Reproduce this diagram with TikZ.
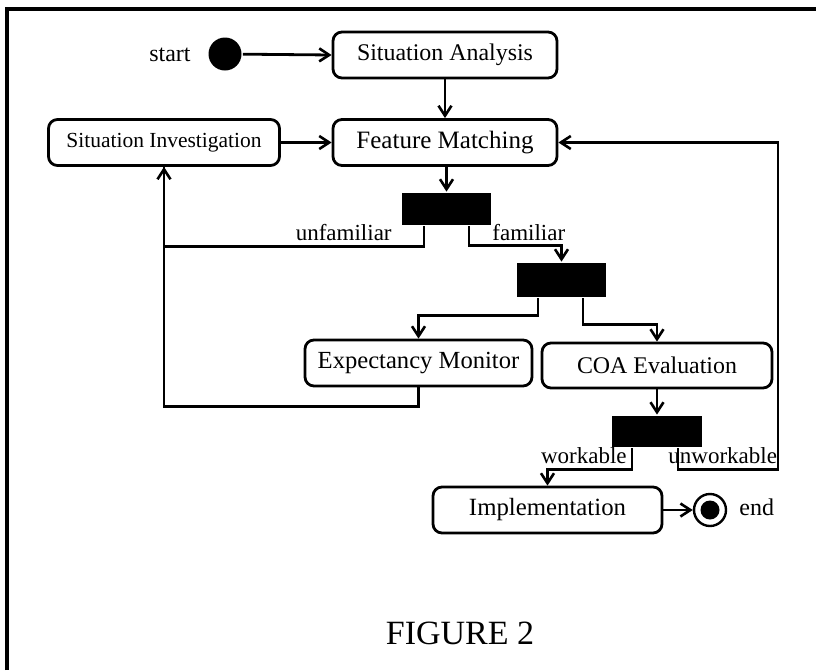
\documentclass[tikz,border=0pt]{standalone}
\usepackage{fontspec}
\setmainfont{Liberation Serif}
\usetikzlibrary{arrows.meta}
\begin{document}
\begin{tikzpicture}[x=1pt,y=-1pt,
  line width=2.8pt,
  state/.style={draw, rounded corners=9pt, inner sep=0pt, line width=2.8pt, minimum height=46pt},
  bar/.style={fill=black, draw=none, inner sep=0pt, minimum width=89pt, minimum height=32pt},
  lbl/.style={inner sep=0pt, font=\fontsize{23}{23}\selectfont},
  arr/.style={-{Straight Barb[length=10pt,width=13pt,line width=2.6pt]}},
]
\useasboundingbox (0,0) rectangle (816,670);
% frame
\coordinate (f1) at (7,670);
\coordinate (f2) at (7,9);
\coordinate (f3) at (816,9);
\draw[line width=3.6pt] (f1) -- (f2) -- (f3);

% nodes
\node[circle, fill=black, inner sep=0pt, minimum size=33pt] (st) at (225,54) {};
\node[lbl, anchor=base east, font=\fontsize{24}{24}\selectfont] (stl) at (192,61) {start};
\node[state, minimum width=224pt, font=\fontsize{23.9}{24}\selectfont] (sa) at (445,55) {Situation Analysis};
\node[state, minimum width=224pt, font=\fontsize{25}{25}\selectfont] (fm) at (445,142.5) {Feature Matching};
\node[state, minimum width=231pt, font=\fontsize{21.5}{22}\selectfont] (si) at (164,142.5) {Situation Investigation};
\node[bar] (b1) at (446.5,209) {};
\node[bar, minimum height=34pt] (b2) at (561.5,280) {};
\node[state, minimum width=227pt, font=\fontsize{24.6}{25}\selectfont] (em) at (418.5,363) {Expectancy Monitor};
\node[state, minimum width=230pt, minimum height=45pt, font=\fontsize{23.9}{24}\selectfont] (coa) at (657,365.5) {COA Evaluation};
\node[bar, minimum width=90pt, minimum height=31pt] (b3) at (657,431.5) {};
\node[state, minimum width=229pt, font=\fontsize{24.8}{25}\selectfont] (impl) at (547.5,510) {Implementation};
\node[circle, draw, line width=2.4pt, inner sep=0pt, minimum size=32pt] (en) at (710,510) {};
\node[circle, fill=black, inner sep=0pt, minimum size=19pt] (enin) at (en.center) {};
\node[lbl, anchor=base west, font=\fontsize{24}{24}\selectfont] (enl) at (738,515) {end};
\node[inner sep=0pt, font=\fontsize{34}{34}\selectfont] (fig) at (460,633) {FIGURE 2};

% labels
\node[lbl, anchor=base east] (lunf) at (393,240) {unfamiliar};
\node[lbl, anchor=base west] (lfam) at (491,240) {familiar};
\node[lbl, anchor=base east] (lwk) at (628,463) {workable};
\node[lbl, anchor=base west] (lunw) at (667,463) {unworkable};

% connectors
\draw[arr] (st) -- (sa.west);
\draw[arr] (sa.south) -- (fm.north);
\draw[arr] (si.east) -- (fm.west);
\draw[arr] (fm.south -| b1.north) -- (b1.north);
\draw[arr] ([xshift=-22.5pt]b1.south) -- ++(0,20) -| (si.south);
\draw[arr] ([xshift=22.5pt]b1.south) -- ++(0,19) -| (b2.north);
\draw[arr] ([xshift=-23.5pt]b2.south) -- ++(0,17) -| (em.north);
\draw[arr] ([xshift=21.5pt]b2.south) -- ++(0,26) -| (coa.north);
\draw (em.south) -- ++(0,19) -| (si.south);
\draw[arr] (coa.south) -- (b3.north);
\draw[arr] ([xshift=-25pt]b3.south) -- ++(0,21) -| (impl.north);
\coordinate (rt) at (778,142.5);
\draw[arr] ([xshift=21pt]b3.south) -- ++(0,21) -| (rt) -- (fm.east);
\draw[arr] (impl.east) -- (en.west);
\end{tikzpicture}
\end{document}
